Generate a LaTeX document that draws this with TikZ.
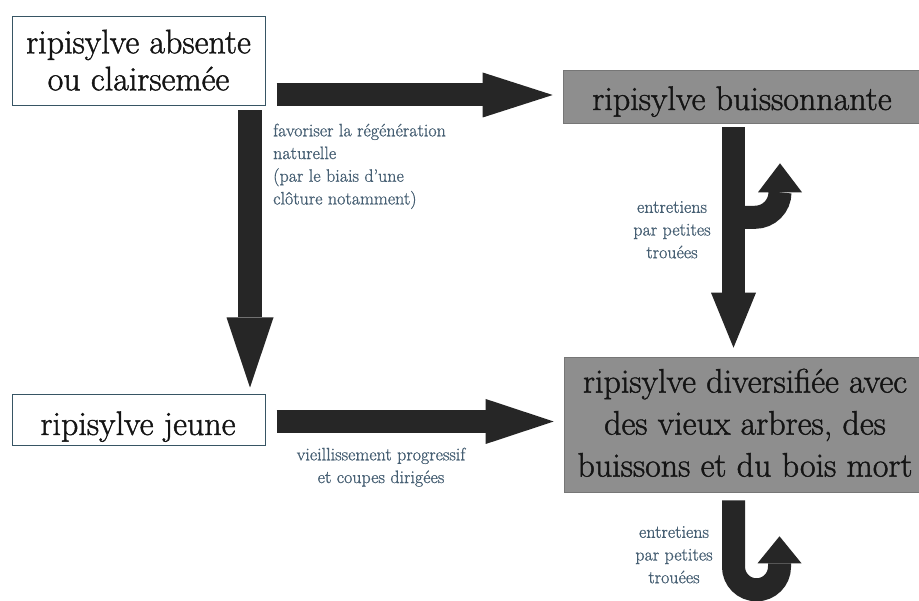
\documentclass[tikz,border=0pt]{standalone}
\usepackage{fontspec}
\usetikzlibrary{arrows.meta,calc}
\newfontfamily\boxfont{Latin Modern Roman}[FakeBold=1.3]
\newfontfamily\labelfont{Latin Modern Roman}[FakeBold=0.9]
\definecolor{arrowcol}{RGB}{38,38,38}
\definecolor{boxgray}{RGB}{142,142,142}
\definecolor{boxedge}{RGB}{118,118,118}
\definecolor{frameblue}{RGB}{55,85,100}
\definecolor{labelcol}{RGB}{70,95,115}
\definecolor{textcol}{RGB}{20,20,20}
\begin{document}
\begin{tikzpicture}[x=1pt,y=-1pt,
  whitebox/.style={draw=frameblue, line width=1pt, fill=white, inner sep=0pt},
  graybox/.style={draw=boxedge, line width=0.6pt, fill=boxgray, inner sep=0pt},
  bigtext/.style={text=textcol, inner sep=0pt, align=center, font=\boxfont\fontsize{34}{37}\selectfont},
  smalltext/.style={text=labelcol, inner sep=0pt, font=\labelfont\fontsize{18}{22.7}\selectfont},
  bigarrow/.style={draw=arrowcol, line width=23pt},
]
\fill[white] (0,0) rectangle (919,601);
\useasboundingbox (0,0) rectangle (919,601);

% boxes
\node[whitebox, minimum width=253pt, minimum height=89pt] (b1) at (138.5,61.5) {};
\node[graybox, minimum width=356pt, minimum height=53pt] (b2) at (741,96.5) {};
\node[graybox, minimum width=355pt, minimum height=135pt] (b3) at (741.5,424.5) {};
\node[whitebox, minimum width=253pt, minimum height=51pt] (b4) at (138.5,420.5) {};

% arrow anchors
\coordinate (a1s) at ([shift={(11,-11.5)}]b1.south east);
\coordinate (a2s) at ([shift={(-15.5,4)}]b1.south east);
\coordinate (a3s) at ([shift={(11,1)}]b4.east);
\coordinate (a4s) at ([shift={(-7.5,4)}]b2.south);
\coordinate (c1s) at ([yshift=-90pt]a4s);
\coordinate (u1s) at ([shift={(-8,8)}]b3.south);

% straight block arrows
\draw[bigarrow, -{Triangle[length=70pt,width=45pt,line width=0pt]}]
  (a1s) -- ([xshift=-10pt]a1s -| b2.west);
\draw[bigarrow, line width=24pt, -{Triangle[length=70pt,width=47pt,line width=0pt]}]
  (a2s) -- ([yshift=7pt]a2s |- b4.north);
\draw[bigarrow, -{Triangle[length=68pt,width=45pt,line width=0pt]}]
  (a3s) -- ([xshift=-10pt]a3s -| b3.west);
\draw[bigarrow, -{Triangle[length=55pt,width=45pt,line width=0pt]}]
  (a4s) -- ([yshift=9pt]a4s |- b3.north);

% curled arrows
\draw[bigarrow, -{Triangle[length=29pt,width=44pt,line width=0pt]}]
  (c1s) -- ++(21.5,0) .. controls +(13.8,0) and +(0,13.8) .. ++(25,-25) -- ++(0,-29);
\draw[bigarrow, -{Triangle[length=27pt,width=44pt,line width=0pt]}]
  (u1s) -- ++(0,66.5) .. controls +(0,12.7) and +(-12.7,0) .. ++(23,23)
  .. controls +(12.7,0) and +(0,12.7) .. ++(23,-23) -- ++(0,-30.5);

% box texts
\node[bigtext, anchor=north] (t1) at (138.5,29.5) {ripisylve absente\\ou clairsemée};
\node[bigtext, anchor=base] (t2) at (742,110) {ripisylve buissonnante};
\node[bigtext, anchor=north, font=\boxfont\fontsize{34}{42}\selectfont] (t3) at (745,368.5)
  {ripisylve diversifiée avec\\des vieux arbres, des\\buissons et du bois mort};
\node[bigtext, anchor=base] (t4) at (138,435) {ripisylve jeune};

% labels
\node[smalltext, anchor=north west, align=left] (l1) at (273,123.5)
  {favoriser la régénération\\naturelle\\(par le biais d’une\\clôture notamment)};
\node[smalltext, anchor=north, align=center] (l2) at (672,201) {entretiens\\par petites\\trouées};
\node[smalltext, anchor=north, align=center] (l3) at (674,526) {entretiens\\par petites\\trouées};
\node[smalltext, anchor=north, align=center] (l4) at (381,447.5) {vieillissement progressif\\et coupes dirigées};
\end{tikzpicture}
\end{document}
